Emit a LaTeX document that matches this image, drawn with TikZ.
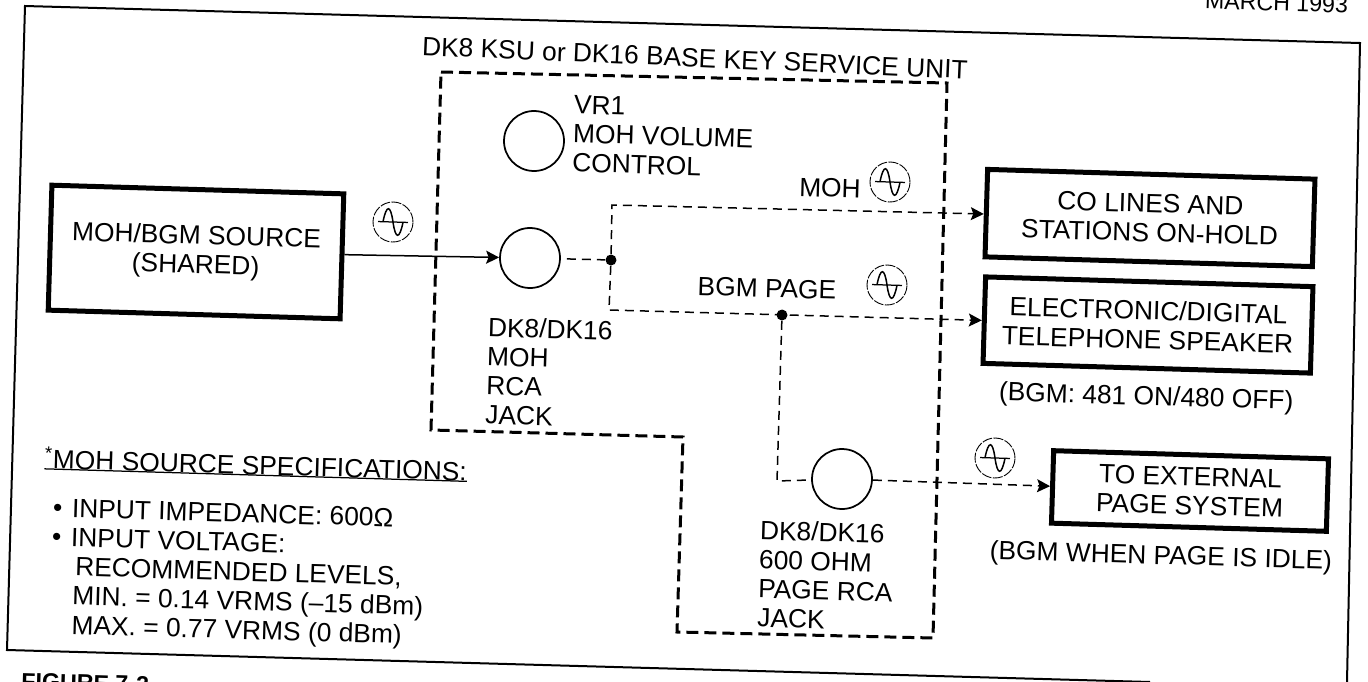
\documentclass[tikz,border=0pt]{standalone}
\usepackage{fontspec}
\setmainfont{Liberation Sans}
\usepackage{tikz}
\usetikzlibrary{positioning,arrows.meta}

\begin{document}
\begin{tikzpicture}[x=0.2mm, y=-0.2mm, every node/.style={font=\fontsize{15}{16.6}\selectfont, rotate=-1.7},
    unitbox/.style={draw, line width=1mm, inner sep=0pt, align=center},
    jack/.style={draw, circle, line width=0.35mm, minimum size=12mm, inner sep=0pt},
    note/.style={align=left, inner sep=0pt},
    dot/.style={circle, fill, inner sep=0pt, minimum size=2.2mm},
    feed/.style={dash pattern=on 1.8mm off 1.2mm, line width=0.3mm},
    tip/.style={-{Stealth[length=2.6mm,width=2.6mm,inset=0.5mm]}},
    acsine/.pic={
      \draw[line width=0.18mm, dash pattern=on 2mm off 0.3mm] (0,0) circle[radius=20];
      \draw[line width=0.25mm] (-15,0) -- (15,0);
      \draw[line width=0.3mm] (-10,0) .. controls (-7,-17.5) and (-3,-17.5) .. (0,0) .. controls (3,17.5) and (7,17.5) .. (10,0);
    }]
    \useasboundingbox (0,0) rectangle (1368,682);
    % page frame
    \draw[line width=0.4mm] (1150,682) -- (7,650) -- (25,6) -- (1360,43) -- (1347,682);
    \node[anchor=base east, font=\fontsize{13.2}{15}\selectfont] (date) at (1354,13) {MARCH 1993};
    \node[anchor=base west, font=\fontsize{13.2}{15}\bfseries\selectfont] (figure) at (15,689) {FIGURE 7-2};

    % key service unit outline
    \draw[dash pattern=on 2.4mm off 1.2mm, line width=0.6mm] (441,72) -- (947,83) -- (933,638) -- (677,632) -- (683,437) -- (431,430) -- cycle;
    \node[rotate=-0.8] (ksu) at (695,58) {DK8 KSU or DK16 BASE KEY SERVICE UNIT};

    \node[jack] (vr1) at (534,141) {};
    \node[note, anchor=north west] (vr1text) at (574,95) {VR1\\MOH VOLUME\\CONTROL};
    \node[jack] (mohjack) at (530,258) {};
    \node[note, anchor=north west] (mohtext) at (488,317) {DK8/DK16\\MOH\\RCA\\JACK};
    \node[jack] (pagejack) at (842,479) {};
    \node[note, anchor=north west] (pagetext) at (760,520) {DK8/DK16\\600 OHM\\PAGE RCA\\JACK};

    \node[unitbox, minimum width=58.4mm, minimum height=25mm] (source) at (196,252) {MOH/BGM SOURCE\\(SHARED)};
    \node[unitbox, minimum width=65.5mm, minimum height=17.5mm] (hold) at (1150,218) {CO LINES AND\\STATIONS ON-HOLD};
    \node[unitbox, minimum width=65.5mm, minimum height=17.3mm] (speaker) at (1148,325) {ELECTRONIC/DIGITAL\\TELEPHONE SPEAKER};
    \node[unitbox, minimum width=55mm, minimum height=14.5mm] (external) at (1190,491) {TO EXTERNAL\\PAGE SYSTEM};
    \node[below=1.8mm of speaker] (bgmnote) {(BGM: 481 ON/480 OFF)};
    \node[below=2mm of external, xshift=-5.5mm] (idlenote) {(BGM WHEN PAGE IS IDLE)};

    \node[dot] (join) at (611,260) {};
    \node[dot] (pagejoin) at (782,315) {};
    \coordinate (holdcorner) at (612,205);
    \coordinate (speakercorner) at (609,310);
    \coordinate (pagecorner) at (777,481);

    \draw[tip, line width=0.3mm] (source) -- (mohjack);
    \draw[feed, shorten <=1.2mm] (mohjack) -- (join);
    \draw[feed, tip] (join) -- (holdcorner) -- (hold);
    \draw[feed, tip] (join) -- (speakercorner) -- (speaker);
    \draw[feed] (pagejoin) -- (pagecorner) -- (pagejack);
    \draw[feed, tip] (pagejack) -- (external);

    \node (mohlabel) at (830,188) {MOH};
    \node (bgmlabel) at (767,288) {BGM PAGE};
    \pic at (890,182) {acsine};
    \pic at (887,285) {acsine};
    \pic at (393,222) {acsine};
    \pic at (995,458) {acsine};

    % specifications
    \node[note, anchor=north west] (spectitle) at (45,446) {\textsuperscript{*}MOH SOURCE SPECIFICATIONS:};
    \draw[line width=0.25mm] (spectitle.south west) -- (spectitle.south east);
    \node[note, anchor=north west] (speclist) at (53,498) {\makebox[3.8mm][l]{\textbullet}INPUT IMPEDANCE: 600Ω\\\makebox[3.8mm][l]{\textbullet}INPUT VOLTAGE:\\\hspace*{4.8mm}RECOMMENDED LEVELS,\\\hspace*{4.4mm}MIN. = 0.14 VRMS (–15 dBm)\\\hspace*{4.4mm}MAX. = 0.77 VRMS (0 dBm)};
  \end{tikzpicture}
\end{document}
